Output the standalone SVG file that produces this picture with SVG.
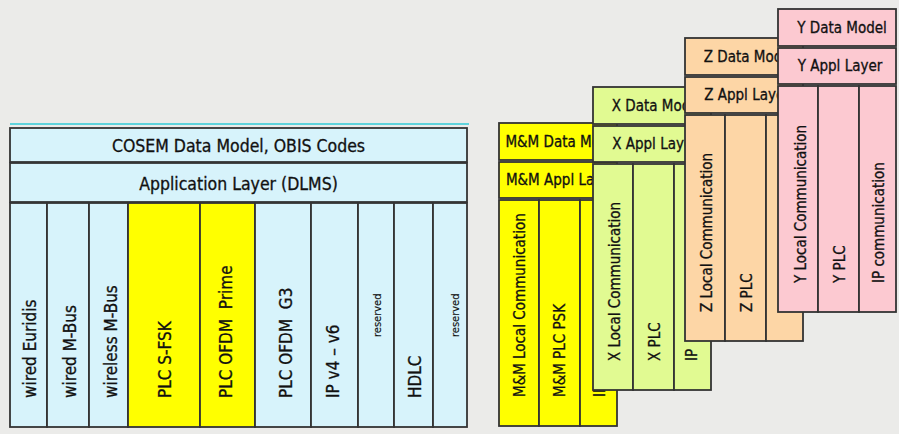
<svg xmlns="http://www.w3.org/2000/svg" width="899" height="434" viewBox="0 0 899 434">
<style>
.b{stroke:#333;stroke-width:1.8}
.cy{fill:#d7f3fb}.yl{fill:#ffff00}.gr{fill:#e1fa92}.or{fill:#fdd6a6}.pk{fill:#fcc9d1}
text{font-family:"DejaVu Sans Condensed","DejaVu Sans",sans-serif;fill:#111;stroke:#111;stroke-width:0.3}
.h{font-size:17.5px;text-anchor:middle}
.v{font-size:17px;white-space:pre}
.s{font-size:11px;stroke-width:0.15}
.rh{font-size:15px;text-anchor:middle}
.rv{font-size:15px}
</style>
<rect width="899" height="434" fill="#ebebe9"/>
<g id="left-stack">
<line x1="10" y1="124" x2="469" y2="124" stroke="#5fd3dc" stroke-width="2"/>
<g id="cosem"><rect class="b cy" x="10" y="128" width="457" height="34"/><text class="h" x="238.5" y="151.5">COSEM Data Model, OBIS Codes</text></g>
<g id="app"><rect class="b cy" x="10" y="163" width="457" height="39"/><text class="h" x="238.5" y="189.5">Application Layer (DLMS)</text></g>
<g id="c1"><rect class="b cy" x="10" y="203" width="37" height="224"/><text class="v" transform="translate(36,398) rotate(-90)">wired Euridis</text></g>
<g id="c2"><rect class="b cy" x="47" y="203" width="42" height="224"/><text class="v" transform="translate(76,398) rotate(-90)">wired M-Bus</text></g>
<g id="c3"><rect class="b cy" x="89" y="203" width="39" height="224"/><text class="v" transform="translate(117,398) rotate(-90)">wireless M-Bus</text></g>
<g id="c4"><rect class="b yl" x="128" y="203" width="72" height="224"/><text class="v" transform="translate(171,398) rotate(-90)">PLC S-FSK</text></g>
<g id="c5"><rect class="b yl" x="200" y="203" width="55" height="224"/><text class="v" transform="translate(232,398) rotate(-90)">PLC OFDM  Prime</text></g>
<g id="c6"><rect class="b cy" x="255" y="203" width="56" height="224"/><text class="v" transform="translate(292,398) rotate(-90)">PLC OFDM  G3</text></g>
<g id="c7"><rect class="b cy" x="311" y="203" width="47" height="224"/><text class="v" transform="translate(339,398) rotate(-90)">IP v4 – v6</text></g>
<g id="c8"><rect class="b cy" x="358" y="203" width="36" height="224"/><text class="s" transform="translate(381,337) rotate(-90)">reserved</text></g>
<g id="c9"><rect class="b cy" x="394" y="203" width="39" height="224"/><text class="v" transform="translate(421,398) rotate(-90)">HDLC</text></g>
<g id="c10"><rect class="b cy" x="433" y="203" width="34" height="224"/><text class="s" transform="translate(459,337) rotate(-90)">reserved</text></g>
</g>
<g id="mm-stack">
<g id="mm-data"><rect class="b yl" x="499" y="123" width="118" height="37"/><text class="rh" x="563" y="147">M&amp;M Data Model</text></g>
<g id="mm-appl"><rect class="b yl" x="499" y="162" width="118" height="36"/><text class="rh" x="561" y="185">M&amp;M Appl Layer</text></g>
<g id="mm-c1"><rect class="b yl" x="499" y="200" width="40" height="226"/><text class="rv" transform="translate(525,397) rotate(-90)">M&amp;M Local Communication</text></g>
<g id="mm-c2"><rect class="b yl" x="539" y="200" width="41" height="226"/><text class="rv" transform="translate(565,397) rotate(-90)">M&amp;M PLC PSK</text></g>
<g id="mm-c3"><rect class="b yl" x="580" y="200" width="37" height="226"/><text class="rv" transform="translate(605,397) rotate(-90)">IP</text></g>
</g>
<g id="x-stack">
<g id="x-data"><rect class="b gr" x="593" y="87" width="118" height="37"/><text class="rh" x="657" y="111">X Data Model</text></g>
<g id="x-appl"><rect class="b gr" x="593" y="126" width="118" height="36"/><text class="rh" x="655" y="149">X Appl Layer</text></g>
<g id="x-c1"><rect class="b gr" x="593" y="164" width="40" height="226"/><text class="rv" transform="translate(620,361) rotate(-90)">X Local Communication</text></g>
<g id="x-c2"><rect class="b gr" x="633" y="164" width="41" height="226"/><text class="rv" transform="translate(660,361) rotate(-90)">X PLC</text></g>
<g id="x-c3"><rect class="b gr" x="674" y="164" width="37" height="226"/><text class="rv" transform="translate(697,361) rotate(-90)">IP</text></g>
</g>
<g id="z-stack">
<g id="z-data"><rect class="b or" x="685" y="38" width="118" height="37"/><text class="rh" x="749" y="62">Z Data Model</text></g>
<g id="z-appl"><rect class="b or" x="685" y="77" width="118" height="36"/><text class="rh" x="747" y="100">Z Appl Layer</text></g>
<g id="z-c1"><rect class="b or" x="685" y="115" width="40" height="226"/><text class="rv" transform="translate(712,312) rotate(-90)">Z Local Communication</text></g>
<g id="z-c2"><rect class="b or" x="725" y="115" width="41" height="226"/><text class="rv" transform="translate(752,312) rotate(-90)">Z PLC</text></g>
<g id="z-c3"><rect class="b or" x="766" y="115" width="37" height="226"/></g>
</g>
<g id="y-stack">
<g id="y-data"><rect class="b pk" x="778" y="9" width="118" height="37"/><text class="rh" x="842" y="33">Y Data Model</text></g>
<g id="y-appl"><rect class="b pk" x="778" y="48" width="118" height="36"/><text class="rh" x="840" y="71">Y Appl Layer</text></g>
<g id="y-c1"><rect class="b pk" x="778" y="86" width="40" height="226"/><text class="rv" transform="translate(806,283) rotate(-90)">Y Local Communication</text></g>
<g id="y-c2"><rect class="b pk" x="818" y="86" width="41" height="226"/><text class="rv" transform="translate(845,283) rotate(-90)">Y PLC</text></g>
<g id="y-c3"><rect class="b pk" x="859" y="86" width="37" height="226"/><text class="rv" transform="translate(884,283) rotate(-90)">IP communication</text></g>
</g>
<g id="connectors"/>
</svg>
